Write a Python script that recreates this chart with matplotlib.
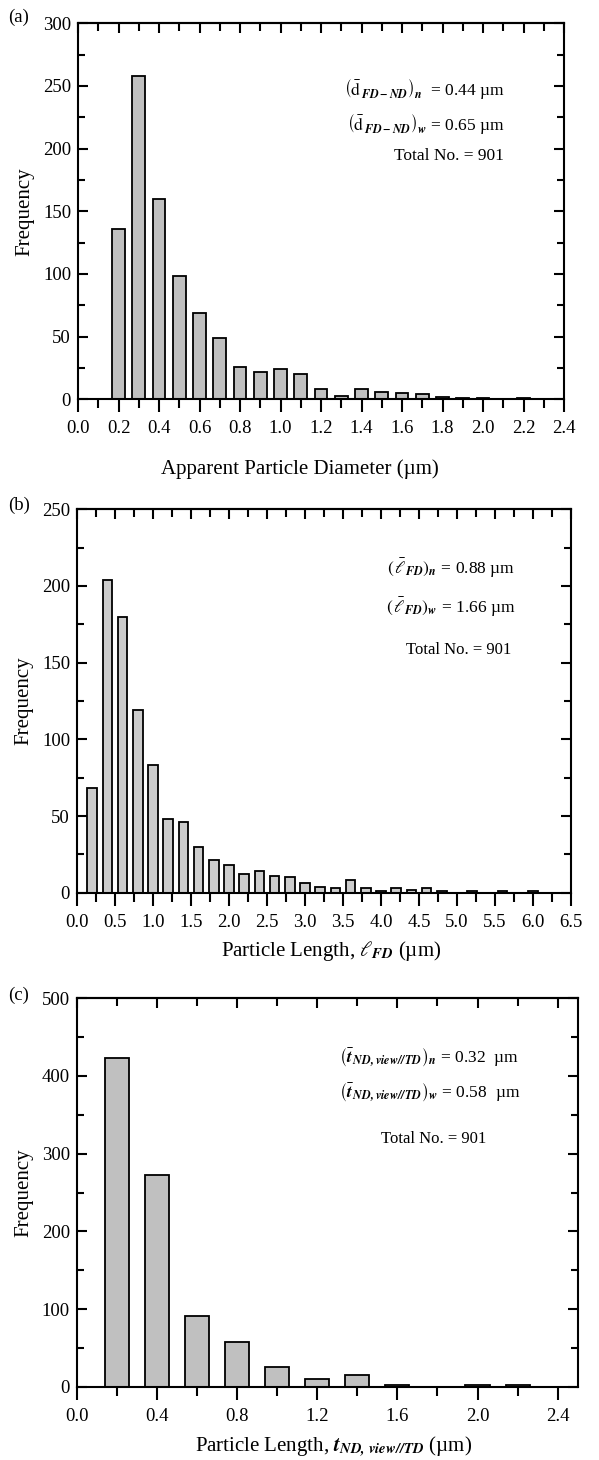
import matplotlib
matplotlib.use("Agg")
import matplotlib.pyplot as plt
from matplotlib.ticker import MultipleLocator, NullFormatter

plt.rcParams['font.family'] = ['Liberation Serif', 'DejaVu Serif']
plt.rcParams['mathtext.fontset'] = 'stix'

# ---------------- data ----------------
# (a) apparent particle diameter
a_centers = [0.2, 0.3, 0.4, 0.5, 0.6, 0.7, 0.8, 0.9, 1.0, 1.1, 1.2, 1.3, 1.4, 1.5,
             1.6, 1.7, 1.8, 1.9, 2.0, 2.1, 2.2]
a_counts = [136, 258, 160, 98, 69, 49, 26, 22, 24, 20, 8, 3, 8, 6, 5, 4, 2, 1, 1, 0, 1]

# (b) particle length l_FD
b_centers = [0.2, 0.4, 0.6, 0.8, 1.0, 1.2, 1.4, 1.6, 1.8, 2.0, 2.2, 2.4, 2.6, 2.8,
             3.0, 3.2, 3.4, 3.6, 3.8, 4.0, 4.2, 4.4, 4.6, 4.8, 5.0, 5.2, 5.4, 5.6,
             5.8, 6.0]
b_counts = [68, 204, 180, 119, 83, 48, 46, 30, 21, 18, 12, 14, 11, 10,
            6, 4, 3, 8, 3, 1, 3, 2, 3, 1, 0, 1, 0, 1, 0, 1]

# (c) particle length t_ND,view//TD
c_centers = [0.2, 0.4, 0.6, 0.8, 1.0, 1.2, 1.4, 1.6, 1.8, 2.0, 2.2]
c_counts = [423, 273, 91, 58, 25, 10, 15, 2, 0, 2, 2]

a_xlabel = 'Apparent Particle Diameter (µm)'
b_xlabel = r'Particle Length, $\ell_{\mathbfit{FD}}$ (µm)'
c_xlabel = r'Particle Length, $\mathbfit{t}_{\mathbfit{ND,\,view//TD}}$ (µm)'

a_notes = [r'$\left(\bar{\mathrm{d}}_{\,\mathbfit{FD-ND}}\right)_{\mathbfit{n}}$  = 0.44 µm',
           r'$\left(\bar{\mathrm{d}}_{\,\mathbfit{FD-ND}}\right)_{\mathbfit{w}}$ = 0.65 µm',
           'Total No. = 901']
b_notes = [r'$\left(\,\bar{\ell}_{\mathbfit{FD}}\right)_{\mathbfit{n}}$ = 0.88 µm',
           r'$\left(\,\bar{\ell}_{\mathbfit{FD}}\right)_{\mathbfit{w}}$ = 1.66 µm',
           'Total No. = 901']
c_notes = [r'$\left(\bar{\mathbfit{t}}_{\,\mathbfit{ND,view//TD}}\right)_{\mathbfit{n}}$ = 0.32  µm',
           r'$\left(\bar{\mathbfit{t}}_{\,\mathbfit{ND,view//TD}}\right)_{\mathbfit{w}}$ = 0.58  µm',
           'Total No. = 901']

W, H = 599, 1460
fig = plt.figure(figsize=(W / 100, H / 100), dpi=100)


def px_axes(l, r, t, b):
    return fig.add_axes([l / W, 1 - b / H, (r - l) / W, (b - t) / H])


LW = 1.5


def style(ax, xmaj, xmin, ymaj, ymin, xlim, ylim):
    ax.set_xlim(*xlim)
    ax.set_ylim(*ylim)
    ax.xaxis.set_major_locator(MultipleLocator(xmaj))
    ax.xaxis.set_minor_locator(MultipleLocator(xmin))
    ax.yaxis.set_major_locator(MultipleLocator(ymaj))
    ax.yaxis.set_minor_locator(MultipleLocator(ymin))
    for s in ax.spines.values():
        s.set_linewidth(LW)
    ax.tick_params(axis='x', which='major', direction='out', length=9.5, width=LW,
                   top=False, labelsize=13.5, pad=5.5)
    ax.tick_params(axis='x', which='minor', direction='out', length=6.5, width=LW,
                   top=False)
    ax.tick_params(axis='y', which='major', direction='in', length=7, width=LW,
                   left=True, right=True, labelsize=13.5, pad=5)
    ax.tick_params(axis='y', which='minor', direction='in', length=5, width=LW,
                   left=True, right=True)
    sec = ax.secondary_xaxis('top')
    sec.xaxis.set_major_locator(MultipleLocator(xmaj))
    sec.xaxis.set_minor_locator(MultipleLocator(xmin))
    sec.xaxis.set_major_formatter(NullFormatter())
    sec.tick_params(axis='x', which='major', direction='in', length=7, width=LW)
    sec.tick_params(axis='x', which='minor', direction='in', length=6, width=LW)
    sec.spines['top'].set_linewidth(LW)
    ax.set_ylabel('Frequency', fontsize=15, labelpad=6)
    ax.xaxis.set_major_formatter(plt.FuncFormatter(lambda v, p: f'{v:.1f}'))


# ---- (a)
ax1 = px_axes(78, 564, 23.3, 399.3)
ax1.bar(a_centers, a_counts, width=0.064, color='#c0c0c0', edgecolor='black', linewidth=1.3)
style(ax1, 0.2, 0.1, 50, 25, (0, 2.4), (0, 300))
ax1.set_xlabel(a_xlabel, fontsize=15, labelpad=16)
ax1.xaxis.label.set_x(0.457)
ax1.text(0.879, 0.823, a_notes[0], transform=ax1.transAxes, ha='right', va='center', fontsize=12.5)
ax1.text(0.879, 0.729, a_notes[1], transform=ax1.transAxes, ha='right', va='center', fontsize=12.5)
ax1.text(0.877, 0.647, a_notes[2], transform=ax1.transAxes, ha='right', va='center', fontsize=12.5)
fig.text(8 / W, 1 - 17 / H, '(a)', fontsize=13.5, va='center', ha='left')

# ---- (b)
ax2 = px_axes(77, 571, 509.3, 892.7)
ax2.bar(b_centers, b_counts, width=0.125, color='#cccccc', edgecolor='black', linewidth=1.3)
style(ax2, 0.5, 0.25, 50, 25, (0, 6.5), (0, 250))
ax2.set_xlabel(b_xlabel, fontsize=15, labelpad=6)
ax2.xaxis.label.set_x(0.514)
ax2.text(0.887, 0.847, b_notes[0], transform=ax2.transAxes, ha='right', va='center', fontsize=12.5)
ax2.text(0.887, 0.745, b_notes[1], transform=ax2.transAxes, ha='right', va='center', fontsize=12.5)
ax2.text(0.773, 0.633, b_notes[2], transform=ax2.transAxes, ha='center', va='center', fontsize=12)
fig.text(8 / W, 1 - 505 / H, '(b)', fontsize=13.5, va='center', ha='left')

# ---- (c)
ax3 = px_axes(76.7, 577.7, 998.3, 1386.7)
ax3.bar(c_centers, c_counts, width=0.12, color='#c0c0c0', edgecolor='black', linewidth=1.3)
style(ax3, 0.4, 0.2, 100, 50, (0, 2.5), (0, 500))
ax3.set_xlabel(c_xlabel, fontsize=15, labelpad=7)
ax3.xaxis.label.set_x(0.512)
ax3.text(0.883, 0.846, c_notes[0], transform=ax3.transAxes, ha='right', va='center', fontsize=12.5)
ax3.text(0.885, 0.756, c_notes[1], transform=ax3.transAxes, ha='right', va='center', fontsize=12.5)
ax3.text(0.713, 0.637, c_notes[2], transform=ax3.transAxes, ha='center', va='center', fontsize=12)
fig.text(8 / W, 1 - 995 / H, '(c)', fontsize=13.5, va='center', ha='left')

fig.savefig('out.png', dpi=100)
